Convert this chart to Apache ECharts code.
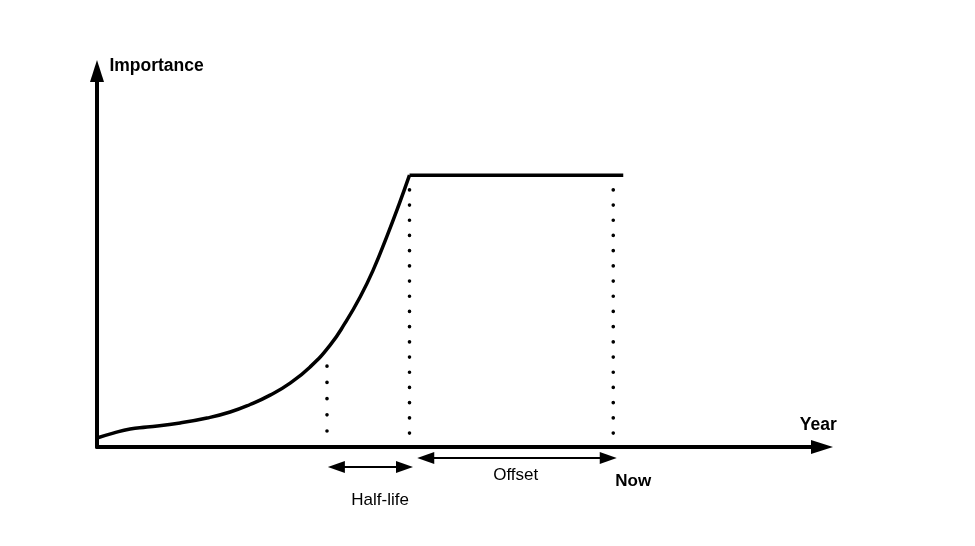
<!DOCTYPE html>
<html><head><meta charset="utf-8">
<script src="https://cdn.jsdelivr.net/npm/echarts@6/dist/echarts.min.js"></script>
<style>html,body{margin:0;padding:0;background:#fff}#chart{width:975px;height:546px}</style>
</head><body><div id="chart"></div>
<script>
// Importance curve (x = years, y = importance units)
const curveX = [0, 2.6, 5.3, 8.0, 13.3, 17.6, 21.3, 24.5, 27.7, 30.9, 34.1, 37.3, 39.7, 42.1, 44.2, 46.4, 48.3, 50.0];
const curveY = [2.4, 3.7, 4.8, 5.3, 6.4, 7.7, 9.3, 11.3, 13.8, 17.0, 21.3, 27.1, 33.0, 39.9, 47.1, 56.1, 64.4, 72.3];
// Plateau after the peak
const plateauX = [50.0, 84.2];
const plateauY = [72.3, 72.3];
// Dotted guide lines
const guideX = [36.8, 50.0, 82.6];
const guideTop = [21.5, 68.4, 68.4];
const guideBottom = [4.0, 3.6, 3.6];
const guideGap = [16.1, 15.1, 15.1];
// Double-headed spans below the axis
const spanFrom = [38.3, 52.6];
const spanTo = [49.2, 81.8];
const spanY = [-5.3, -2.9];
// Annotation texts below the axis
const noteText = ['Half-life', 'Offset', 'Now'];
const noteX = [45.3, 67.0, 85.8];
const noteY = [-14.1, -7.4, -9.0];
const noteBold = [false, false, true];
// Axis titles
const axisTitleText = ['Importance', 'Year'];
const axisTitleX = [1.9, 115.4];
const axisTitleY = [101.3, 5.9];
const axisTitlePos = ['right', 'inside'];

const FONT = '"Liberation Sans", Arial, Helvetica, sans-serif';
const INK = '#000000';
const zip = (xs, ys) => xs.map((x, i) => [x, ys[i]]);
const chart = echarts.init(document.getElementById('chart'), null, { renderer: 'canvas' });

const axisLineStyle = { color: INK, width: 4 };
const hiddenBits = { axisTick: { show: false }, axisLabel: { show: false }, splitLine: { show: false } };

const series = [
  {
    type: 'line', xAxisIndex: 0, yAxisIndex: 0, data: zip(curveX, curveY),
    smooth: 0.5, symbol: 'none', showSymbol: false, clip: false, silent: true,
    lineStyle: { color: INK, width: 3.5 }, z: 5
  },
  {
    type: 'line', xAxisIndex: 0, yAxisIndex: 0, data: zip(plateauX, plateauY),
    symbol: 'none', showSymbol: false, clip: false, silent: true,
    lineStyle: { color: INK, width: 3.5 }, z: 5
  }
];
guideX.forEach((gx, i) => {
  series.push({
    type: 'line', xAxisIndex: 0, yAxisIndex: 0,
    data: [[gx, guideTop[i]], [gx, guideBottom[i]]],
    symbol: 'none', showSymbol: false, clip: false, silent: true,
    lineStyle: { color: INK, width: 3.6, type: [0.1, guideGap[i]], cap: 'round' }, z: 4
  });
});
series.push({
  type: 'scatter', xAxisIndex: 0, yAxisIndex: 0, clip: false, silent: true,
  symbolSize: 1, itemStyle: { color: 'rgba(0,0,0,0)' },
  data: axisTitleText.map((t, i) => ({
    name: t, value: [axisTitleX[i], axisTitleY[i]],
    label: { position: axisTitlePos[i], color: INK, opacity: 1 }
  })),
  label: {
    show: true, formatter: '{b}', distance: 0, color: INK, opacity: 1,
    fontFamily: FONT, fontSize: 17.5, fontWeight: 'bold'
  }
});
series.push({
  type: 'scatter', xAxisIndex: 1, yAxisIndex: 1, clip: false, silent: true,
  symbolSize: 1, itemStyle: { color: 'rgba(0,0,0,0)' },
  data: noteText.map((t, i) => ({
    name: t, value: [noteX[i], noteY[i]],
    label: { fontWeight: noteBold[i] ? 'bold' : 'normal', color: INK, opacity: 1 }
  })),
  label: {
    show: true, formatter: '{b}', position: 'inside', color: INK, opacity: 1,
    fontFamily: FONT, fontSize: 17
  },
  markLine: {
    silent: true, animation: false,
    symbol: ['triangle', 'triangle'], symbolSize: [12, 17],
    label: { show: false },
    lineStyle: { color: INK, width: 2, type: 'solid', opacity: 1 },
    emphasis: { disabled: true },
    data: spanFrom.map((f, i) => [{ coord: [f, spanY[i]] }, { coord: [spanTo[i], spanY[i]] }])
  }
});

chart.setOption({
  animation: false,
  backgroundColor: '#fff',
  textStyle: { color: INK, fontFamily: FONT },
  grid: [
    { left: 97, right: 153, top: 71, bottom: 99, containLabel: false, outerBoundsMode: 'none' },
    { left: 97, right: 153, top: 447, bottom: 0, containLabel: false, outerBoundsMode: 'none' }
  ],
  xAxis: [
    Object.assign({
      gridIndex: 0, type: 'value', min: 0, max: 116,
      axisLine: { show: true, onZero: false, symbol: ['none', 'triangle'], symbolSize: [14, 22], lineStyle: axisLineStyle }
    }, hiddenBits),
    { gridIndex: 1, type: 'value', min: 0, max: 116, show: false }
  ],
  yAxis: [
    Object.assign({
      gridIndex: 0, type: 'value', min: 0, max: 100,
      axisLine: { show: true, onZero: false, symbol: ['none', 'triangle'], symbolSize: [14, 22], lineStyle: axisLineStyle }
    }, hiddenBits),
    { gridIndex: 1, type: 'value', min: -26.33, max: 0, show: false }
  ],
  series: series
});
</script></body></html>
